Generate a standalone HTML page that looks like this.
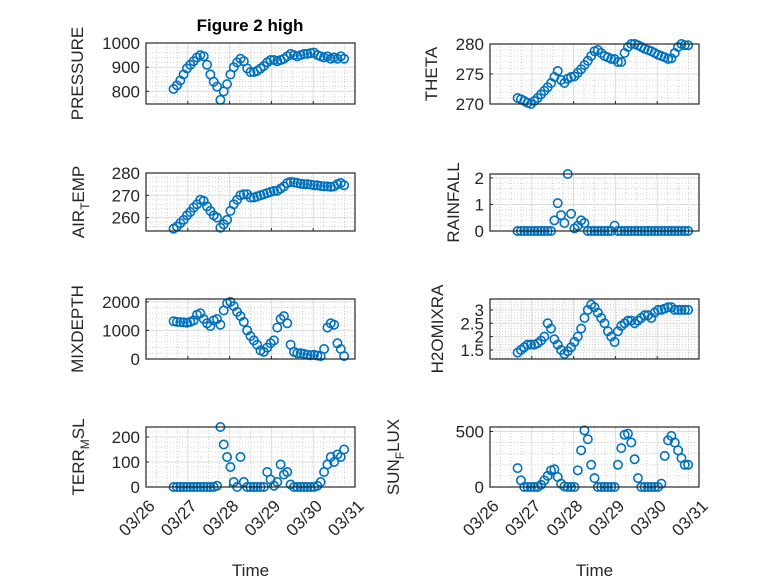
<!DOCTYPE html>
<html><head><meta charset="utf-8"><style>
html,body{margin:0;padding:0;background:#fff;}
svg{display:block;font-family:"Liberation Sans",sans-serif;}
</style></head><body>
<svg id="fig" width="778" height="583" viewBox="0 0 778 583" xmlns="http://www.w3.org/2000/svg">
<rect width="778" height="583" fill="#fff"/>
<text x="250" y="31" font-size="17" font-weight="bold" text-anchor="middle" fill="#000">Figure 2 high</text>
</svg>
<script>
const times = [26.66,26.74,26.82,26.90,26.98,27.06,27.14,27.22,27.30,27.38,27.46,27.54,27.62,27.70,27.78,27.86,27.94,28.02,28.10,28.18,28.26,28.34,28.42,28.50,28.58,28.66,28.74,28.82,28.90,28.98,29.06,29.14,29.22,29.30,29.38,29.46,29.54,29.62,29.70,29.78,29.86,29.94,30.02,30.10,30.18,30.26,30.34,30.42,30.50,30.58,30.66,30.74];
const dayTicks = ["03/26","03/27","03/28","03/29","03/30","03/31"];
const pressure = [810,825,845,870,895,910,925,940,950,945,910,870,840,820,765,800,830,870,900,920,935,925,895,880,880,885,895,905,920,930,930,925,930,935,945,955,950,945,950,955,955,958,960,950,945,940,945,935,940,935,945,935];
const theta = [271,270.8,270.5,270.2,270,270.5,271,271.6,272.2,272.8,273.5,274.5,275.5,274,273.5,274.2,274.5,274.6,275.2,275.8,276.5,277.2,278,278.8,279,278.5,278,277.8,277.5,277.5,277,277,278.5,279.5,280,280,279.8,279.5,279.2,279,278.8,278.5,278.2,278,277.8,277.5,277.6,278.5,279.5,280,279.8,279.8];
const airTemp = [255,256,257.5,259,261,262.5,264.5,266,268,267.5,265,263,261,260,255.5,257,259,263,266,268,270,270.5,270.5,269,269,269.5,270,270.5,271,271.5,272,272,273,274,275.5,276,275.8,275.5,275.2,275,275,274.8,274.5,274.5,274.2,274,274,273.8,274,275,275.5,274.5];
const rainfall = [0,0,0,0,0,0,0,0,0,0,0,0.4,1.05,0.6,0.3,2.15,0.65,0.1,0.2,0.4,0.3,0,0,0,0,0,0,0,0,0.2,0,0,0,0,0,0,0,0,0,0,0,0,0,0,0,0,0,0,0,0,0,0];
const mixDepth = [1320,1300,1290,1280,1270,1300,1350,1550,1600,1400,1250,1150,1350,1400,1200,1700,1950,2000,1850,1650,1500,1300,1000,800,650,500,300,250,400,550,650,1100,1400,1500,1250,500,250,200,200,180,150,130,150,120,100,350,1100,1250,1200,550,350,100];
const h2oMix = [1.4,1.5,1.6,1.7,1.7,1.7,1.75,1.85,2.0,2.5,2.3,1.9,1.7,1.5,1.35,1.45,1.6,1.8,2.0,2.3,2.7,3.0,3.2,3.1,2.9,2.7,2.5,2.2,2.0,1.8,2.2,2.4,2.5,2.6,2.6,2.5,2.6,2.7,2.8,2.8,2.7,2.9,3.0,3.0,3.05,3.1,3.1,3.0,3.0,3.0,3.0,3.0];
const terrMsl = [0,0,0,0,0,0,0,0,0,0,0,0,0,5,240,170,120,80,20,0,120,20,0,0,0,0,0,0,60,30,5,20,90,50,60,10,0,0,0,0,0,0,0,5,20,60,90,120,100,130,120,150];
const sunFlux = [170,60,0,0,0,0,0,20,60,100,150,160,90,30,5,0,0,0,150,330,510,430,200,80,0,0,0,0,0,0,200,350,470,480,400,250,80,0,0,0,0,0,0,30,280,420,460,400,330,260,200,200];

const panels = [
 {name:"pressure",label:["PRESSURE"],data:pressure,x0:146,x1:355,y0:43,y1:104,ymin:748,ymax:1000,ticks:[800,900,1000],tl:["800","900","1000"],minor:20,lx:77},
 {name:"theta",label:["THETA"],data:theta,x0:490,x1:699,y0:44,y1:104,ymin:270,ymax:280,ticks:[270,275,280],tl:["270","275","280"],minor:1,lx:431},
 {name:"air-temp",label:["AIR","T","EMP"],data:airTemp,x0:146,x1:355,y0:173,y1:231,ymin:254,ymax:280,ticks:[260,270,280],tl:["260","270","280"],minor:2,lx:78},
 {name:"rainfall",label:["RAINFALL"],data:rainfall,x0:490,x1:699,y0:174,y1:231,ymin:0,ymax:2.15,ticks:[0,1,2],tl:["0","1","2"],minor:0.2,lx:453},
 {name:"mixdepth",label:["MIXDEPTH"],data:mixDepth,x0:146,x1:355,y0:299,y1:359,ymin:0,ymax:2100,ticks:[0,1000,2000],tl:["0","1000","2000"],minor:200,lx:77},
 {name:"h2omixra",label:["H2OMIXRA"],data:h2oMix,x0:490,x1:699,y0:299,y1:359,ymin:1.16,ymax:3.41,ticks:[1.5,2,2.5,3],tl:["1.5","2","2.5","3"],minor:0.1,lx:437},
 {name:"terr-msl",label:["TERR","M","SL"],data:terrMsl,x0:146,x1:355,y0:427,y1:487,ymin:0,ymax:240,ticks:[0,100,200],tl:["0","100","200"],minor:20,lx:78,bottom:true},
 {name:"sun-flux",label:["SUN","F","LUX"],data:sunFlux,x0:490,x1:699,y0:427,y1:487,ymin:0,ymax:540,ticks:[0,500],tl:["0","500"],minor:100,lx:393,bottom:true}
];
const svg=document.getElementById('fig');
const NS="http://www.w3.org/2000/svg";
function mk(tag,attrs,parent){const e=document.createElementNS(NS,tag);for(const k in attrs)e.setAttribute(k,attrs[k]);(parent||svg).appendChild(e);return e;}
panels.forEach(p=>{
 const g=mk('g',{});
 
 
 const xs=t=>p.x0+(t-26)/5*(p.x1-p.x0);
 const ys=v=>p.y1-(v-p.ymin)/(p.ymax-p.ymin)*(p.y1-p.y0);
 for(let d=26;d<31;d+=0.25){if(Math.abs(d-Math.round(d))<1e-6)continue;const x=xs(d);
  const l=mk('line',{x1:x,x2:x,y1:p.y0,y2:p.y1,stroke:'#c8c8c8','stroke-dasharray':'1,2','stroke-width':0.8},g);
  }
 const mstart=Math.ceil(p.ymin/p.minor);
 for(let k=mstart;k*p.minor<=p.ymax+1e-9;k++){const v=k*p.minor;if(p.ticks.some(t=>Math.abs(t-v)<1e-6))continue;const y=ys(v);
  const l=mk('line',{x1:p.x0,x2:p.x1,y1:y,y2:y,stroke:'#c8c8c8','stroke-dasharray':'1,2','stroke-width':0.8},g);
  }
 for(let d=27;d<31;d++){const x=xs(d);
  const l=mk('line',{x1:x,x2:x,y1:p.y0,y2:p.y1,stroke:'#dcdcdc','stroke-width':1},g);
  }
 p.ticks.forEach((v,i)=>{const y=ys(v);
  const l=mk('line',{x1:p.x0,x2:p.x1,y1:y,y2:y,stroke:'#dcdcdc','stroke-width':1},g);
  
  const tk=mk('line',{x1:p.x0,x2:p.x0+3,y1:y,y2:y,stroke:'#262626'},g);
  
  const tx=mk('text',{x:p.x0-6,y:y+6,'font-size':17,'text-anchor':'end',fill:'#262626'},g);
  tx.textContent=p.tl[i];
  
 });
 for(let d=26;d<=31;d++){const x=xs(d);
  const tk=mk('line',{x1:x,x2:x,y1:p.y1,y2:p.y1-3,stroke:'#262626'},g);
  }
 p.data.forEach((v,i)=>{
  const c=mk('circle',{cx:xs(times[i]),cy:ys(v),r:4.2,fill:'none',stroke:'#0072BD','stroke-width':1.6},g);
  
 });
 const box=mk('rect',{x:p.x0,y:p.y0,width:p.x1-p.x0,height:p.y1-p.y0,fill:'none',stroke:'#262626','stroke-width':1.2},g);
 
 const cy=(p.y0+p.y1)/2;
 const yl=mk('text',{x:0,y:0,'font-size':17,'text-anchor':'middle',fill:'#262626',transform:`translate(${p.lx+6},${cy}) rotate(-90)`},g);
 
 if(p.label.length===1){yl.textContent=p.label[0];}
 else{const a=mk('tspan',{},yl);a.textContent=p.label[0];
  const b=mk('tspan',{dy:5,'font-size':12},yl);b.textContent=p.label[1];
  const c=mk('tspan',{dy:-5},yl);c.textContent=p.label[2];}
 if(p.bottom){
  dayTicks.forEach((s,i)=>{const x=xs(26+i);
   const t=mk('text',{x:0,y:0,'font-size':17,'text-anchor':'end',fill:'#262626',transform:`translate(${x+10},${p.y1+20}) rotate(-45)`},g);
   t.textContent=s;});
  const xl=mk('text',{x:(p.x0+p.x1)/2,y:576,'font-size':17,'text-anchor':'middle',fill:'#262626'},g);
  xl.textContent='Time';
 }
});
</script>
</body></html>
